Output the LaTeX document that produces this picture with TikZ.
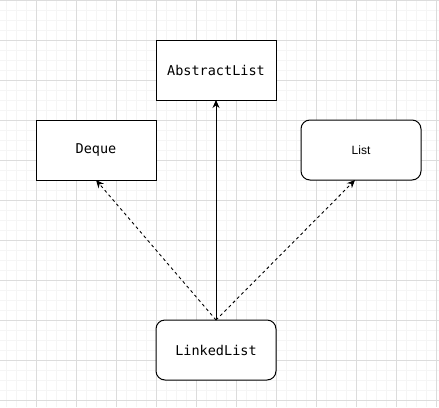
\documentclass[tikz,border=0pt]{standalone}
\usepackage{fontspec}
\setmainfont{Liberation Sans}
\newfontfamily\codefont{DejaVu Sans Mono}
\usetikzlibrary{arrows.meta}
\definecolor{gridmajor}{HTML}{DCDCDC}
\definecolor{gridminor}{HTML}{F5F5F5}
\tikzset{
  box/.style={draw=black, line width=1pt, fill=white, minimum width=120pt, minimum height=60pt, inner sep=0pt, outer sep=0pt},
  roundbox/.style={box, rounded corners=9pt},
  code/.style={font=\codefont\fontsize{13.5}{16}\selectfont},
  plain/.style={font=\fontsize{12}{14}\selectfont},
  link/.style={line width=0.9pt, -{Stealth[length=8pt,width=7pt]}},
  impl/.style={link, dash pattern=on 3pt off 3pt}
}
\begin{document}
\begin{tikzpicture}[x=1pt,y=-1pt]
\useasboundingbox (0,0) rectangle (439,407);
\fill[white] (0,0) rectangle (439,407);
% minor grid
\foreach \x in {6,16,...,436} \draw[gridminor, line width=0.8pt] (\x,0) -- (\x,407);
\foreach \y in {0,10,...,400} \draw[gridminor, line width=0.8pt] (0,\y) -- (439,\y);
% major grid
\foreach \x in {36,76,...,436} \draw[gridmajor, line width=0.8pt] (\x,0) -- (\x,407);
\foreach \y in {0,40,...,400} \draw[gridmajor, line width=0.8pt] (0,\y) -- (439,\y);
% nodes
\node[box, code] (al) at (216,70) {AbstractList};
\node[box, code] (dq) at (96,150) {Deque};
\node[roundbox, plain] (li) at (361,150) {List};
\node[roundbox, code] (ll) at (216,350) {LinkedList};
\coordinate (lt) at ([xshift=-6pt]li.south);
% connectors
\draw[link] (ll.north) -- (al.south);
\draw[impl] (ll.north) -- (dq.south);
\draw[impl] (ll.north) -- (lt);
\end{tikzpicture}
\end{document}
